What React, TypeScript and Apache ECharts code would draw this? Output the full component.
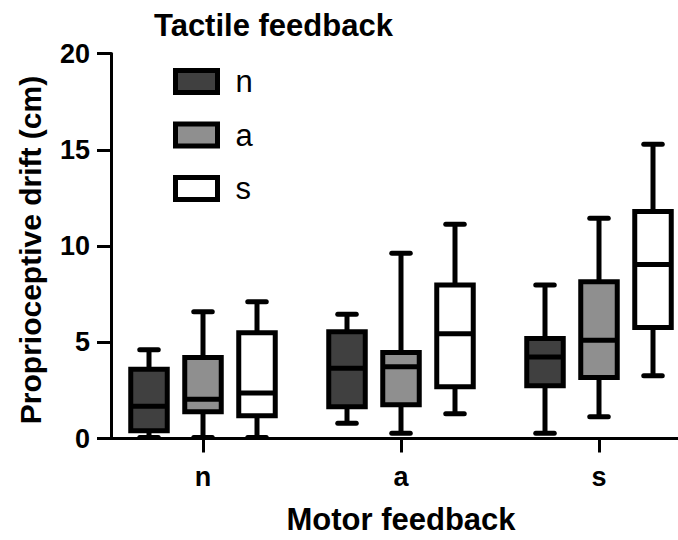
import React, { useEffect, useRef } from 'react';
import * as echarts from 'echarts';

const motorCategories = ['n', 'a', 's'];
const tactileNames = ['n', 'a', 's'];
const yTicks = [0, 5, 10, 15, 20];

// [min, Q1, median, Q3, max] for motor feedback n, a, s
const tactileN = [
  [0.05, 0.4, 1.67, 3.6, 4.61],
  [0.79, 1.65, 3.65, 5.54, 6.46],
  [0.27, 2.74, 4.23, 5.19, 7.97],
];
const tactileA = [
  [0.05, 1.39, 2.04, 4.21, 6.58],
  [0.27, 1.75, 3.73, 4.47, 9.62],
  [1.13, 3.17, 5.1, 8.14, 11.44],
];
const tactileS = [
  [0.05, 1.18, 2.37, 5.5, 7.1],
  [1.29, 2.69, 5.44, 7.98, 11.13],
  [3.26, 5.77, 9.04, 11.79, 15.29],
];

const fillColors = ['#404040', '#8f8f8f', '#ffffff'];
const FONT = '"Liberation Sans", Arial, Helvetica, sans-serif';

const OFFSET_FRAC = 54 / 198;
const BOX_FRAC = 36.5 / 198;
const CAP_FRAC = 18.5 / 198;
const LW = 5;

function makeRender(k: number) {
  return (params: any, api: any) => {
    const idx = api.value(0);
    const base = api.coord([idx, 0]);
    const band = api.size([1, 0])[0];
    const cx = base[0] + (k - 1) * OFFSET_FRAC * band;
    const half = (BOX_FRAC * band) / 2;
    const capHalf = (CAP_FRAC * band) / 2;
    const y = (i: number) => api.coord([idx, api.value(i)])[1];
    const yMin = y(1), yQ1 = y(2), yMed = y(3), yQ3 = y(4), yMax = y(5);
    const st = { stroke: '#000', lineWidth: LW, fill: null };
    return {
      type: 'group',
      children: [
        { type: 'line', shape: { x1: cx, y1: yQ3, x2: cx, y2: yMax }, style: st },
        { type: 'line', shape: { x1: cx, y1: yQ1, x2: cx, y2: yMin }, style: st },
        { type: 'line', shape: { x1: cx - capHalf, y1: yMax, x2: cx + capHalf, y2: yMax }, style: { ...st, lineCap: 'round' } },
        { type: 'line', shape: { x1: cx - capHalf, y1: yMin, x2: cx + capHalf, y2: yMin }, style: { ...st, lineCap: 'round' } },
        { type: 'rect', shape: { x: cx - half, y: yQ3, width: 2 * half, height: yQ1 - yQ3 }, style: { fill: fillColors[k], stroke: '#000', lineWidth: LW } },
        { type: 'line', shape: { x1: cx - half, y1: yMed, x2: cx + half, y2: yMed }, style: st },
      ],
    };
  };
}

export default function App() {
  const ref = useRef<HTMLDivElement>(null);
  useEffect(() => {
    document.body.style.margin = '0';
    if (!ref.current) return;
    const chart = echarts.init(ref.current, undefined, { renderer: 'svg' });
    const groups = [tactileN, tactileA, tactileS];
    chart.setOption({
      animation: false,
      backgroundColor: '#ffffff',
      title: {
        text: 'Tactile feedback',
        left: 154,
        top: 10,
        padding: 0,
        textStyle: { fontSize: 31, fontWeight: 'bold', color: '#000', fontFamily: FONT },
      },
      legend: {
        orient: 'vertical',
        left: 173,
        top: 66,
        padding: 0,
        itemWidth: 42,
        itemHeight: 22,
        itemGap: 22.5,
        selectedMode: false,
        data: tactileNames.map((n, i) => ({
          name: n,
          icon: 'rect',
          itemStyle: { color: fillColors[i], borderColor: '#000', borderWidth: LW },
        })),
        textStyle: { fontSize: 31, color: '#000', fontFamily: FONT, padding: [0, 0, 0, 13] },
      },
      grid: { left: 104, top: 53.5, width: 594, height: 385, outerBoundsMode: 'none', containLabel: false },
      xAxis: {
        type: 'category',
        data: motorCategories,
        axisLine: { show: true, lineStyle: { color: '#000', width: 3 } },
        axisTick: { show: true, alignWithLabel: true, length: 14, lineStyle: { color: '#000', width: 3 } },
        axisLabel: { fontSize: 27, fontWeight: 'bold', color: '#000', margin: 25, fontFamily: FONT },
        splitLine: { show: false },
        name: 'Motor feedback',
        nameLocation: 'middle',
        nameGap: 65,
        nameTextStyle: { fontSize: 31, fontWeight: 'bold', color: '#000', fontFamily: FONT },
      },
      yAxis: {
        type: 'value',
        min: yTicks[0],
        max: yTicks[yTicks.length - 1],
        interval: 5,
        offset: -7,
        axisLine: { show: true, lineStyle: { color: '#000', width: 3 } },
        axisTick: { show: true, length: 14, lineStyle: { color: '#000', width: 3 } },
        axisLabel: { fontSize: 27, fontWeight: 'bold', color: '#000', margin: 21, fontFamily: FONT },
        splitLine: { show: false },
        name: 'Proprioceptive drift (cm)',
        nameLocation: 'middle',
        nameGap: 66,
        nameTextStyle: { fontSize: 30, fontWeight: 'bold', color: '#000', fontFamily: FONT, padding: [0, 8, 0, 0] },
      },
      series: groups.map((g, k) => ({
        type: 'custom',
        name: tactileNames[k],
        itemStyle: { color: fillColors[k], borderColor: '#000', borderWidth: LW },
        encode: { x: 0, y: [1, 2, 3, 4, 5] },
        data: g.map((d, i) => [i, ...d]),
        renderItem: makeRender(k),
      })),
    });
    return () => chart.dispose();
  }, []);
  return <div ref={ref} style={{ width: 678, height: 540 }} />;
}
